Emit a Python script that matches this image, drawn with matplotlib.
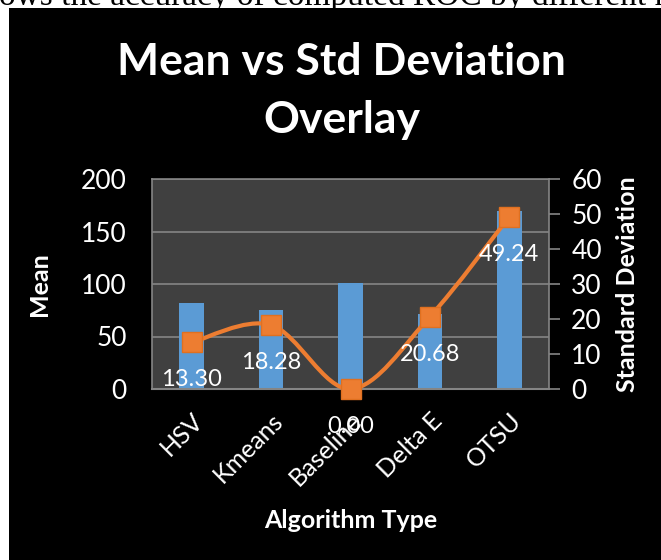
import numpy as np
import matplotlib.pyplot as plt
from matplotlib.patches import Rectangle
from matplotlib.path import Path
from matplotlib.patches import PathPatch

# datos
categories = ["HSV", "Kmeans", "Baseline", "Delta E", "OTSU"]
mean_vals = [82, 75, 101, 71, 170]
std_vals = [13.30, 18.28, 0.00, 20.68, 49.24]

C_BAR = "#5B9BD5"
C_LINE = "#ED7D31"
C_GRID = "#858585"
FONT = "Lato"

fig = plt.figure(figsize=(6.61, 5.60), dpi=100)
fig.patch.set_facecolor("white")
fig.patches.append(Rectangle((9 / 661, 0), 1, 1 - 8 / 560, transform=fig.transFigure,
                             facecolor="black", edgecolor="none", zorder=-10))
# texto del documento cortado arriba
fig.text(-0.002, 1 - 5 / 560, "ows the accuracy of computed ROC by different n",
         family="Liberation Serif", fontsize=24, color="black", va="baseline", ha="left")

ax1 = fig.add_axes([152 / 661, 1 - 389 / 560, 397 / 661, 210 / 560])
ax1.set_facecolor("#404040")
x = np.arange(len(categories))
ax1.bar(x, mean_vals, width=0.31, color=C_BAR, zorder=2)
ax1.set_xlim(-0.5, len(categories) - 0.5)
ax1.set_ylim(0, 200)
ax1.set_yticks([0, 50, 100, 150, 200])
ax1.yaxis.grid(True, color=C_GRID, linewidth=1.2, zorder=1)
ax1.set_axisbelow(True)
for s in ["left", "top"]:
    ax1.spines[s].set_color(C_GRID)
    ax1.spines[s].set_linewidth(1.2)
ax1.spines["right"].set_visible(False)
ax1.spines["bottom"].set_color(C_GRID)
ax1.spines["bottom"].set_linewidth(1.5)
ax1.tick_params(axis="y", length=0, pad=18, labelcolor="white", labelsize=19)
ax1.tick_params(axis="x", length=0, pad=14, labelcolor="white", labelsize=18)
ax1.set_xticks(x)
ax1.set_xticklabels(categories, rotation=45, ha="right", rotation_mode="anchor",
                    family=FONT)
for lab in ax1.get_yticklabels():
    lab.set_family(FONT)
ax1.set_ylabel("Mean", color="white", fontsize=18, fontweight="bold", family=FONT,
               labelpad=22)
ax1.set_xlabel("Algorithm Type", color="white", fontsize=18, fontweight="bold",
               family=FONT, labelpad=14)

ax2 = ax1.twinx()
ax2.set_ylim(0, 60)
ax2.set_yticks([0, 10, 20, 30, 40, 50, 60])
for s in ["left", "top", "bottom"]:
    ax2.spines[s].set_visible(False)
ax2.spines["right"].set_color(C_GRID)
ax2.spines["right"].set_linewidth(1.2)
ax2.tick_params(axis="y", length=8, width=1.2, color=C_GRID, direction="out", pad=8,
                labelcolor="white", labelsize=19)
for lab in ax2.get_yticklabels():
    lab.set_family(FONT)
ax2.set_ylabel("Standard Deviation", color="white", fontsize=18, fontweight="bold",
               family=FONT, labelpad=10)

# línea suavizada (Bezier cúbica estilo Excel)
pts = np.column_stack([x, std_vals]).astype(float)
verts = [tuple(pts[0])]
codes = [Path.MOVETO]
n = len(pts)
for i in range(n - 1):
    p0 = pts[i - 1] if i > 0 else pts[i]
    p1, p2 = pts[i], pts[i + 1]
    p3 = pts[i + 2] if i + 2 < n else pts[i + 1]
    c1 = p1 + (p2 - p0) / 6
    c2 = p2 - (p3 - p1) / 6
    verts += [tuple(c1), tuple(c2), tuple(p2)]
    codes += [Path.CURVE4] * 3
ax2.add_patch(PathPatch(Path(verts, codes), facecolor="none", edgecolor=C_LINE,
                        linewidth=3, zorder=3, clip_on=False))
ax2.plot(x, std_vals, linestyle="none", marker="s", markersize=15, color=C_LINE,
         markeredgecolor="#E07020", zorder=4, clip_on=False)
for xi, v in zip(x, std_vals):
    ax2.annotate(f"{v:.2f}", (xi, v), xytext=(0, -27), textcoords="offset points",
                 ha="center", va="center", color="white", fontsize=17, family=FONT,
                 zorder=5, annotation_clip=False)

fig.text(0.517, 1 - 62 / 560, "Mean vs Std Deviation", ha="center", va="center",
         color="white", fontsize=32, fontweight="bold", family=FONT)
fig.text(0.517, 1 - 120 / 560, "Overlay", ha="center", va="center",
         color="white", fontsize=32, fontweight="bold", family=FONT)

fig.savefig("out.png", dpi=100, facecolor=fig.get_facecolor())
